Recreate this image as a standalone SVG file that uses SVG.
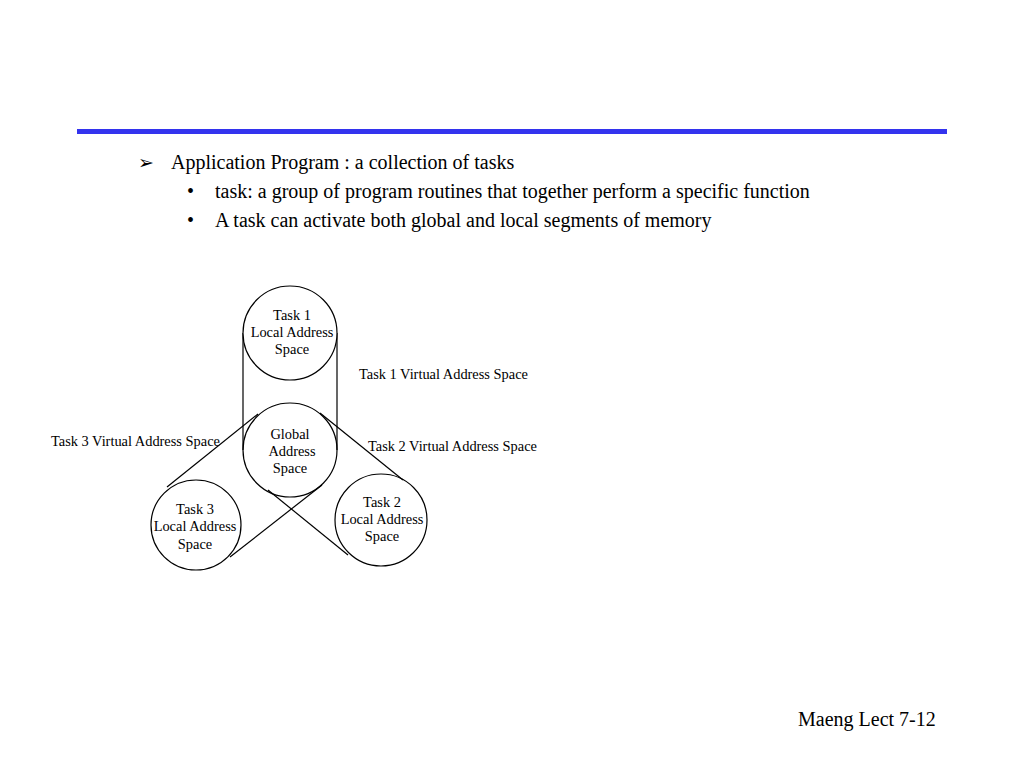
<svg xmlns="http://www.w3.org/2000/svg" width="1024" height="768" viewBox="0 0 1024 768">
<style>
.t{font-family:"Liberation Serif","Times New Roman",serif;fill:#000}
.b{font-size:20px}
.s{font-size:14.4px}
.c{fill:#fff;stroke:#000;stroke-width:1.2}
.l{stroke:#000;stroke-width:1.2;fill:none}
</style>
<rect width="1024" height="768" fill="#fff"/>
<rect x="77" y="129" width="870" height="5" fill="#3333ee"/>
<g id="bullets">
<text class="t" x="138" y="169" style="font-family:'DejaVu Sans',sans-serif;font-size:19px">➢</text>
<text class="t b" x="171" y="169">Application Program : a collection of tasks</text>
<text class="t b" x="187" y="198">•</text>
<text class="t b" x="215" y="198">task: a group of program routines that together perform a specific function</text>
<text class="t b" x="187" y="227">•</text>
<text class="t b" x="215" y="227">A task can activate both global and local segments of memory</text>
</g>
<g id="connectors">
<line class="l" x1="243" y1="333" x2="243" y2="450"/>
<line class="l" x1="337" y1="333" x2="337" y2="450"/>
<line class="l" x1="258" y1="414" x2="167" y2="487"/>
<line class="l" x1="322" y1="485" x2="230" y2="557"/>
<line class="l" x1="320" y1="413" x2="403" y2="480"/>
<line class="l" x1="268" y1="490" x2="348" y2="555"/>
</g>
<g id="task1">
<circle class="c" cx="290" cy="333" r="47"/>
<text class="t s" x="292" y="320" text-anchor="middle">Task 1</text>
<text class="t s" x="292" y="337" text-anchor="middle">Local Address</text>
<text class="t s" x="292" y="354" text-anchor="middle">Space</text>
</g>
<g id="global">
<circle class="c" cx="290" cy="450" r="47" style="fill:none"/>
<text class="t s" x="290" y="439" text-anchor="middle">Global</text>
<text class="t s" x="292" y="456" text-anchor="middle">Address</text>
<text class="t s" x="290" y="473" text-anchor="middle">Space</text>
</g>
<g id="task3">
<circle class="c" cx="196" cy="525" r="45" style="fill:none"/>
<text class="t s" x="195" y="514" text-anchor="middle">Task 3</text>
<text class="t s" x="195" y="531" text-anchor="middle">Local Address</text>
<text class="t s" x="195" y="549" text-anchor="middle">Space</text>
</g>
<g id="task2">
<circle class="c" cx="381" cy="520" r="46" style="fill:none"/>
<text class="t s" x="382" y="507" text-anchor="middle">Task 2</text>
<text class="t s" x="382" y="524" text-anchor="middle">Local Address</text>
<text class="t s" x="382" y="541" text-anchor="middle">Space</text>
</g>
<g id="labels">
<text class="t s" x="359" y="379">Task 1 Virtual Address Space</text>
<text class="t s" x="368" y="451">Task 2 Virtual Address Space</text>
<text class="t s" x="51" y="446">Task 3 Virtual Address Space</text>
</g>
<text class="t" x="798" y="726" style="font-size:20px">Maeng Lect 7-12</text>
</svg>
